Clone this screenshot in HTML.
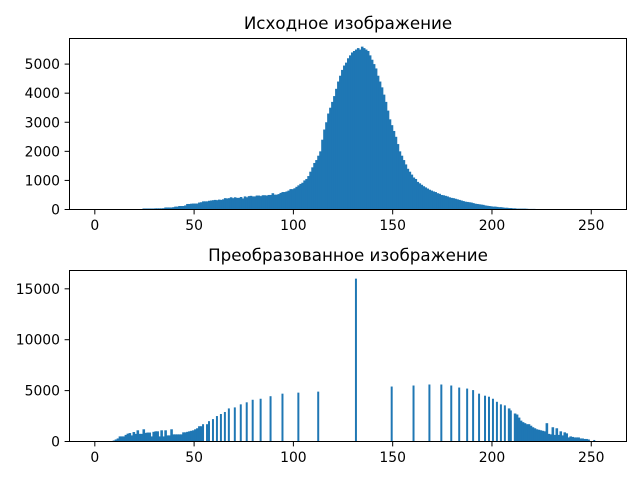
<!DOCTYPE html>
<html><head><meta charset="utf-8"><style>
body{margin:0;background:#fff;}
svg{display:block;font-family:"DejaVu Sans","Liberation Sans",sans-serif;}
</style></head><body>
<svg id="fig" width="640" height="480" viewBox="0 0 640 480" xmlns="http://www.w3.org/2000/svg">
<rect width="640" height="480" fill="#fff"/>
</svg>
<script>
const topCounts = [
0,0,0,0,0,0,0,0,0,0,0,0,0,0,0,0,0,0,0,0,0,0,0,0,
35,35,35,35,35,35, 40,40,40,40,45,70, 70,70,70,80,100,100, 120,120,120,140,190,190,
200,205,205,205,240,250, 280,280,280,300,310,320, 330,320,340,330,350,390,
380,390,420,390,420,400, 400,430,380,450,420,460, 470,450,450,480,480,460,
490,490,480,500,500,560, 510,510,530,570,600,600, 620,650,700,700,730,780,
830,880,920,1000,1050,1150, 1300,1450,1600,1700,1850,2000, 2400,2750,3000,3300,3500,3700,
3900,4150,4400,4600,4800,4950, 5050,5200,5300,5400,5450,5500, 5550,5500,5600,5550,5500,5450,
5300,5150,5000,4850,4600,4400, 4200,3950,3700,3400,3100,2900, 2700,2500,2250,2000,1850,1700,
1550,1400,1300,1200,1100,1050, 950,900,850,800,760,720, 680,650,620,600,560,540,
500,490,470,450,420,400, 390,370,350,330,310,290, 270,260,250,240,220,200,
190,180,170,160,140,130, 120,110,100,100,90,80, 80,70,60,60,50,50,
40,40,30,30,30,30, 30,25,20,20,20,20,
0,0,0,0,0,0,0,0,0,0,0,0,0,0,0,0,0,0,0,0,0,0,0,0,0,0,0,0,0,0,0,0,0,0];
const bottomLevels = [9,10,11,12,13,14,15,16,17,18,19,20,21,22,23,24,25,26,27,28,29,30,31,32,33,34,35,36,37,38,39,40,41,42,43,44,45,46,47,48,49,50,51,52,53,54,
56,57,59,61,63,65,67,70,73,76,79,83,88,94,102,112,131,149,160,168,174,179,183,187,190,193,196,198,200,202,204,206,208,209,211,212,213,
214,215,216,217,218,219,220,221,222,223,224,225,226,227,228,229,230,231,232,233,234,235,236,237,238,239,240,241,242,243,244,245,246,247,248,249,251];
const bottomCounts = [100,200,300,500,500,500,650,770,830,600,930,750,1100,750,750,1200,850,880,880,500,950,1000,1000,500,1100,500,1100,600,600,1200,700,700,700,700,700,900,900,950,1000,1050,1100,1200,1300,1500,1500,1700,
1700,2000,2200,2500,2700,2900,3250,3350,3650,3850,4100,4200,4450,4700,4800,4900,16000,5400,5500,5600,5600,5500,5300,5200,5050,4700,4500,4400,4200,3900,3650,3550,3250,3050,2750,2650,2350,
2050,1900,1800,1700,1700,1550,1400,1300,1200,1150,1100,1050,1000,1800,750,700,1400,650,1300,650,1000,600,900,800,400,500,450,400,400,400,300,300,250,250,200,50,150];
const xTicks = [0,50,100,150,200,250];
const topYTicks = [0,1000,2000,3000,4000,5000];
const bottomYTicks = [0,5000,10000,15000];

const svg = document.getElementById('fig');
const NS = 'http://www.w3.org/2000/svg';
function mk(tag, attrs, parent){const e=document.createElementNS(NS,tag);for(const k in attrs)e.setAttribute(k,attrs[k]);(parent||svg).appendChild(e);return e;}
const X0=-12.75, X1=267.75;

function panel(name, top, bottom, title, levels, counts, yTicks){
  const L=69.5, R=626.5;
  const g = mk('g',{});
  
  
  const maxC = Math.max(...counts);
  const yMax = maxC*1.05;
  const sx = v => L + (v-X0)/(X1-X0)*(R-L);
  const sy = v => bottom - v/yMax*(bottom-top);
  const cnt = new Set(levels.filter((lv,i)=>counts[i]>0));
  for(let i=0;i<counts.length;i++){
    if(!counts[i]) continue;
    const lv = levels[i];
    const w = sx(lv+1)-sx(lv) + (cnt.has(lv+1)?0.6:0);
    const r = mk('rect',{x:sx(lv),y:sy(counts[i]),width:w,height:bottom-sy(counts[i]),fill:'#1f77b4'},g);
    
    
  }
  const frame = mk('rect',{x:L,y:top,width:R-L,height:bottom-top,fill:'none',stroke:'#000','stroke-width':1},g);
  
  
  xTicks.forEach(t=>{
    const x=sx(t);
    mk('line',{x1:x,x2:x,y1:bottom,y2:bottom+4.9,stroke:'#000'},g);
    const tx = mk('text',{x:x,y:bottom+20.5,'font-size':13.9,'text-anchor':'middle',fill:'#000'},g);
    tx.textContent=t;
    
    
  });
  yTicks.forEach(t=>{
    const y=sy(t);
    mk('line',{x1:L,x2:L-4.9,y1:y,y2:y,stroke:'#000'},g);
    const tx = mk('text',{x:L-9.5,y:y+5,'font-size':13.9,'text-anchor':'end',fill:'#000'},g);
    tx.textContent=t;
    
    
  });
  const tt = mk('text',{x:(L+R)/2,y:top-9.5,'font-size':16.7,'text-anchor':'middle',fill:'#000'},g);
  tt.textContent=title;
  
  
}
const topLevels = topCounts.map((_,i)=>i);
panel('original-histogram', 38.5, 209.5, 'Исходное изображение', topLevels, topCounts, topYTicks);
panel('transformed-histogram', 270.5, 441.5, 'Преобразованное изображение', bottomLevels, bottomCounts, bottomYTicks);
</script>
</body></html>
